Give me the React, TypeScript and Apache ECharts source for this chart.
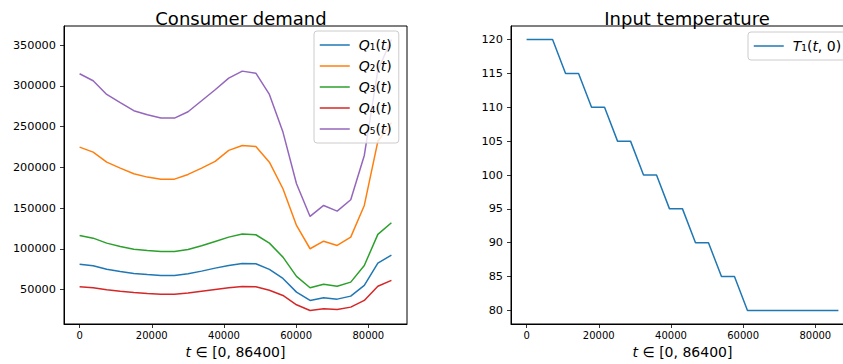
import React, { useEffect, useRef } from 'react';
import * as echarts from 'echarts';

const tDemand = [0, 3757, 7513, 11270, 15026, 18783, 22539, 26296, 30052, 33809, 37565, 41322, 45078, 48835, 52591, 56348, 60104, 63861, 67617, 71374, 75130, 78887, 82643, 86400];
const q1 = [81100, 79100, 74900, 72100, 69700, 68400, 67200, 67200, 69300, 72500, 76200, 79500, 82000, 81600, 74600, 63500, 46700, 36500, 39800, 38100, 41800, 54900, 82300, 92100];
const q2 = [224800, 218700, 206400, 199000, 192100, 188000, 185500, 185500, 191300, 199000, 207300, 220800, 226900, 225700, 206400, 173700, 128600, 100000, 109300, 104100, 114300, 153200, 232000, 255000];
const q3 = [116300, 113000, 106900, 102800, 99500, 97900, 96700, 96700, 99100, 103700, 109000, 114300, 118000, 117200, 106900, 89700, 66000, 52100, 56500, 54000, 59000, 79500, 117600, 131900];
const q4 = [53300, 52100, 49600, 47900, 46300, 45100, 44200, 44200, 45500, 47900, 50000, 52100, 53700, 53300, 49100, 42600, 31200, 24200, 26300, 25400, 28300, 36500, 54000, 61100];
const q5 = [315000, 306400, 289600, 279400, 269600, 264600, 260500, 260500, 268300, 281800, 295300, 309600, 318200, 315700, 289600, 243300, 179900, 139700, 153200, 146200, 160200, 214600, 319000, 357000];

const tTemp = [0, 3600, 7200, 10800, 14400, 18000, 21600, 25200, 28800, 32400, 36000, 39600, 43200, 46800, 50400, 54000, 57600, 61200, 64800, 68400, 72000, 75600, 79200, 82800, 86400];
const temp = [120, 120, 120, 115, 115, 110, 110, 105, 105, 100, 100, 95, 95, 90, 90, 85, 85, 80, 80, 80, 80, 80, 80, 80, 80];

const xTicks = [0, 20000, 40000, 60000, 80000];
const demandTicks = [50000, 100000, 150000, 200000, 250000, 300000, 350000];
const tempTicks = [80, 85, 90, 95, 100, 105, 110, 115, 120];

const demandNames = ['Q1', 'Q2', 'Q3', 'Q4', 'Q5'];
const demandLabels = ['{i|Q}₁({i|t})', '{i|Q}₂({i|t})', '{i|Q}₃({i|t})', '{i|Q}₄({i|t})', '{i|Q}₅({i|t})'];
const tempName = 'T1';
const tempLabel = '{i|T}₁({i|t}, 0)';
const colors = ['#1f77b4', '#ff7f0e', '#2ca02c', '#d62728', '#9467bd'];

const FONT = 'DejaVu Sans';

const pad = (v: { min: number; max: number }, side: 'min' | 'max') => {
  const r = v.max - v.min;
  return side === 'min' ? v.min - 0.05 * r : v.max + 0.05 * r;
};
const plain = (v: number) => String(Math.round(v));

export default function App() {
  const ref = useRef<HTMLDivElement>(null);
  useEffect(() => {
    document.body.style.margin = '0';
    const chart = echarts.init(ref.current!, null, { renderer: 'svg' });
    const richI = { i: { fontStyle: 'italic', fontFamily: FONT, fontSize: 14, color: '#000' } };
    const xAxisCommon = (idx: number) => ({
      type: 'value',
      gridIndex: idx,
      min: (v: any) => pad(v, 'min'),
      max: (v: any) => pad(v, 'max'),
      name: '{i|t} ∈ [0, 86400]',
      nameLocation: 'middle',
      nameGap: 20,
      nameTextStyle: { fontFamily: FONT, fontSize: 14, color: '#000', rich: richI },
      axisLine: { show: true, onZero: false, lineStyle: { color: '#000', width: 1 } },
      axisTick: { show: true, length: 4, customValues: xTicks, lineStyle: { color: '#000', width: 0.8 } },
      axisLabel: { color: '#000', fontFamily: FONT, fontSize: 10, margin: 6, customValues: xTicks, formatter: plain },
      splitLine: { show: false },
    });
    const yAxisCommon = (idx: number, ticks: number[]) => ({
      type: 'value',
      gridIndex: idx,
      min: (v: any) => pad(v, 'min'),
      max: (v: any) => pad(v, 'max'),
      axisLine: { show: true, onZero: false, lineStyle: { color: '#000', width: 1 } },
      axisTick: { show: true, length: 4, customValues: ticks, lineStyle: { color: '#000', width: 0.8 } },
      axisLabel: { color: '#000', fontFamily: FONT, fontSize: 11.3, margin: 8, customValues: ticks, formatter: plain },
      splitLine: { show: false },
    });
    const legendCommon = {
      orient: 'vertical',
      itemWidth: 30,
      itemHeight: 14,
      itemGap: 7,
      padding: [7, 7, 7, 5],
      backgroundColor: 'rgba(255,255,255,0.8)',
      borderColor: '#cccccc',
      borderWidth: 1,
      borderRadius: 3,
      itemStyle: { opacity: 0 },
      lineStyle: { width: 1.5 },
      textStyle: { fontFamily: FONT, fontSize: 14, color: '#000', padding: [0, 0, 0, 4], rich: richI },
    };
    chart.setOption({
      animation: false,
      backgroundColor: '#fff',
      title: [
        { text: 'Consumer demand', left: 236, top: 4, textAlign: 'center', textStyle: { fontFamily: FONT, fontSize: 18, fontWeight: 'normal', color: '#000' } },
        { text: 'Input temperature', left: 682, top: 4, textAlign: 'center', textStyle: { fontFamily: FONT, fontSize: 18, fontWeight: 'normal', color: '#000' } },
      ],
      grid: [
        { left: 64, top: 26, width: 343, height: 298, show: true, borderColor: '#000', borderWidth: 1, backgroundColor: 'transparent' },
        { left: 511, top: 26, width: 343, height: 298, show: true, borderColor: '#000', borderWidth: 1, backgroundColor: 'transparent' },
      ],
      xAxis: [xAxisCommon(0), xAxisCommon(1)],
      yAxis: [yAxisCommon(0, demandTicks), yAxisCommon(1, tempTicks)],
      legend: [
        {
          ...legendCommon,
          left: 314,
          top: 31,
          data: demandNames,
          formatter: (n: string) => demandLabels[demandNames.indexOf(n)],
        },
        {
          ...legendCommon,
          left: 748,
          top: 32,
          data: [tempName],
          formatter: () => tempLabel,
        },
      ],
      series: [
        ...[q1, q2, q3, q4, q5].map((arr, i) => ({
          name: demandNames[i],
          type: 'line',
          xAxisIndex: 0,
          yAxisIndex: 0,
          symbol: 'none',
          lineStyle: { color: colors[i], width: 1.5 },
          itemStyle: { color: colors[i] },
          data: tDemand.map((t, k) => [t, arr[k]]),
        })),
        {
          name: tempName,
          type: 'line',
          xAxisIndex: 1,
          yAxisIndex: 1,
          symbol: 'none',
          lineStyle: { color: colors[0], width: 1.5 },
          itemStyle: { color: colors[0] },
          data: tTemp.map((t, k) => [t, temp[k]]),
        },
      ],
    });
    return () => chart.dispose();
  }, []);
  return (
    <div style={{ width: 843, height: 364, overflow: 'hidden', position: 'relative' }}>
      <div ref={ref} style={{ width: 860, height: 364 }} />
    </div>
  );
}
